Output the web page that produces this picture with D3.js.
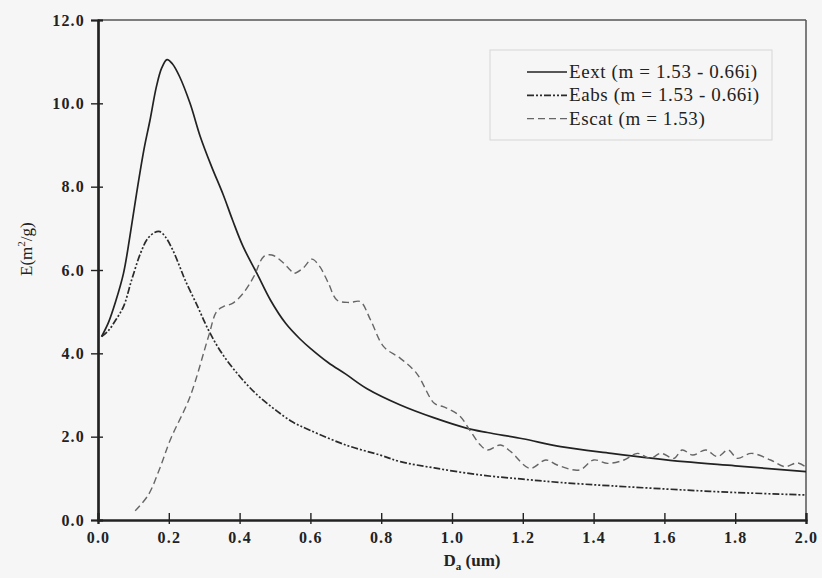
<!DOCTYPE html>
<html lang="en">
<head>
  <meta charset="utf-8">
  <title>E vs Da</title>
  <script src="https://d3js.org/d3.v7.min.js"></script>
  <style>
    body { margin: 0; background: #f6f6f6; }
    text { font-family: "Liberation Serif", "Times New Roman", serif; fill: #222; }
  </style>
</head>
<body>
<svg id="chart" width="822" height="578"></svg>
<script>
// [D (um), E (m2/g)]
const eext = [
  [0.01, 4.4], [0.03, 4.75], [0.05, 5.25], [0.072, 5.92], [0.09, 6.8], [0.109, 7.84],
  [0.13, 8.9], [0.147, 9.6], [0.165, 10.4], [0.18, 10.85], [0.195, 11.05], [0.21, 10.95],
  [0.23, 10.65], [0.26, 10.0], [0.289, 9.2], [0.32, 8.5], [0.354, 7.8], [0.38, 7.2],
  [0.41, 6.56], [0.45, 5.9], [0.487, 5.28], [0.53, 4.72], [0.57, 4.35], [0.6, 4.12],
  [0.65, 3.78], [0.7, 3.5], [0.76, 3.15], [0.854, 2.76], [0.95, 2.45], [1.043, 2.2],
  [1.1, 2.1], [1.2, 1.95], [1.307, 1.76], [1.45, 1.6], [1.656, 1.4], [1.8, 1.3], [2.0, 1.16]
];
const eabs = [
  [0.01, 4.4], [0.03, 4.55], [0.05, 4.8], [0.072, 5.12], [0.095, 5.76], [0.12, 6.4],
  [0.14, 6.75], [0.16, 6.9], [0.175, 6.92], [0.19, 6.8], [0.21, 6.5], [0.23, 6.1],
  [0.246, 5.76], [0.28, 5.15], [0.312, 4.56], [0.35, 4.0], [0.4, 3.45], [0.45, 3.0],
  [0.5, 2.65], [0.55, 2.35], [0.6, 2.15], [0.7, 1.8], [0.8, 1.55], [0.854, 1.4],
  [0.95, 1.25], [1.08, 1.08], [1.2, 0.98], [1.307, 0.9], [1.45, 0.82], [1.656, 0.72],
  [1.8, 0.66], [2.0, 0.6]
];
const escat = [
  [0.105, 0.22], [0.142, 0.6], [0.175, 1.25], [0.204, 1.92], [0.26, 2.96], [0.312, 4.4],
  [0.335, 5.0], [0.354, 5.12], [0.38, 5.2], [0.41, 5.44], [0.44, 5.84], [0.468, 6.32],
  [0.491, 6.36], [0.52, 6.2], [0.543, 6.0], [0.553, 5.92], [0.58, 6.05], [0.604, 6.26],
  [0.625, 6.1], [0.65, 5.7], [0.675, 5.28], [0.71, 5.22], [0.741, 5.24], [0.77, 4.8],
  [0.807, 4.16], [0.854, 3.88], [0.9, 3.52], [0.95, 2.8], [0.975, 2.72], [0.996, 2.64],
  [1.024, 2.48], [1.05, 2.16], [1.08, 1.8], [1.1, 1.68], [1.137, 1.8], [1.166, 1.64],
  [1.22, 1.24], [1.265, 1.44], [1.297, 1.32], [1.36, 1.2], [1.4, 1.44], [1.44, 1.36],
  [1.486, 1.44], [1.524, 1.6], [1.56, 1.48], [1.59, 1.6], [1.627, 1.48], [1.65, 1.68],
  [1.68, 1.56], [1.717, 1.68], [1.75, 1.52], [1.78, 1.68], [1.806, 1.48], [1.845, 1.6],
  [1.9, 1.44], [1.94, 1.28], [1.976, 1.37], [2.0, 1.27]
];
const xTicks = [0, 0.2, 0.4, 0.6, 0.8, 1.0, 1.2, 1.4, 1.6, 1.8, 2.0];
const yTicks = [0, 2, 4, 6, 8, 10, 12];
const legendLabels = ["Eext (m = 1.53 - 0.66i)", "Eabs (m = 1.53 - 0.66i)", "Escat (m = 1.53)"];

const margin = { left: 98, right: 16, top: 20, bottom: 58 };
const W = 822, H = 578;

const svg = d3.select("#chart");
const x = d3.scaleLinear().domain([0, 2]).range([margin.left, W - margin.right]);
const y = d3.scaleLinear().domain([0, 12]).range([H - margin.bottom, margin.top]);

// frame top and right
svg.append("line").attr("x1", x(0)).attr("x2", x(2)).attr("y1", y(12)).attr("y2", y(12))
  .attr("stroke", "#555").attr("stroke-width", 1.5);
svg.append("line").attr("x1", x(2)).attr("x2", x(2)).attr("y1", y(12)).attr("y2", y(0))
  .attr("stroke", "#555").attr("stroke-width", 1.5);

// axes
svg.append("g").attr("transform", `translate(${x(0)},0)`)
  .call(d3.axisLeft(y).tickValues(yTicks).tickFormat(d3.format(".1f")).tickSize(7).tickPadding(6));
svg.append("g").attr("transform", `translate(${x(0)},0)`)
  .call(d3.axisRight(y).tickValues(yTicks).tickFormat("").tickSize(5));
svg.append("g").attr("transform", `translate(0,${y(0)})`)
  .call(d3.axisBottom(x).tickValues(xTicks).tickFormat(d3.format(".1f")).tickSize(4).tickPadding(8));
svg.append("g").attr("transform", `translate(0,${y(0)})`)
  .call(d3.axisTop(x).tickValues(xTicks).tickFormat("").tickSize(7));

svg.selectAll(".domain").attr("stroke", "#222").attr("stroke-width", 2.2);
svg.selectAll(".tick line").attr("stroke", "#222").attr("stroke-width", 1.4);
svg.selectAll(".tick text").style("font-family", "'Liberation Serif', serif")
  .style("font-size", "16px").style("font-weight", "bold").style("letter-spacing", "1.2px")
  .attr("fill", "#222");

// axis titles
svg.append("text")
  .attr("transform", `translate(32,${y(6.5)}) rotate(-90)`)
  .attr("text-anchor", "middle").style("font-size", "17px")
  .html('E(m<tspan dy="-7" font-size="11">2</tspan><tspan dy="7">/g)</tspan>');
svg.append("text")
  .attr("x", 472).attr("y", 566)
  .attr("text-anchor", "middle").style("font-size", "17px").style("font-weight", "bold")
  .html('D<tspan dy="4" font-size="11">a</tspan><tspan dy="-4"> (um)</tspan>');

// curves
const line = d3.line().x(d => x(d[0])).y(d => y(d[1])).curve(d3.curveCatmullRom.alpha(0.5));
const styles = [
  { data: eext, color: "#222", width: 1.7, dash: null },
  { data: eabs, color: "#2a2a2a", width: 1.7, dash: "7,2,2,2,2,2" },
  { data: escat, color: "#666", width: 1.4, dash: "7,4" }
];
styles.forEach(s => {
  svg.append("path").attr("d", line(s.data)).attr("fill", "none")
    .attr("stroke", s.color).attr("stroke-width", s.width)
    .attr("stroke-dasharray", s.dash);
});

// legend
const legend = svg.append("g");
legend.append("rect").attr("x", 490).attr("y", 50).attr("width", 282).attr("height", 90)
  .attr("fill", "none").attr("stroke", "#d6d6d6").attr("stroke-width", 1);
legendLabels.forEach((lab, i) => {
  const ly = 72 + i * 23.3;
  legend.append("line").attr("x1", 527).attr("x2", 567).attr("y1", ly).attr("y2", ly)
    .attr("stroke", styles[i].color).attr("stroke-width", styles[i].width)
    .attr("stroke-dasharray", styles[i].dash);
  legend.append("text").attr("x", 569).attr("y", ly + 6)
    .style("font-size", "19px").style("letter-spacing", "0.6px").text(lab);
});
</script>
</body>
</html>
